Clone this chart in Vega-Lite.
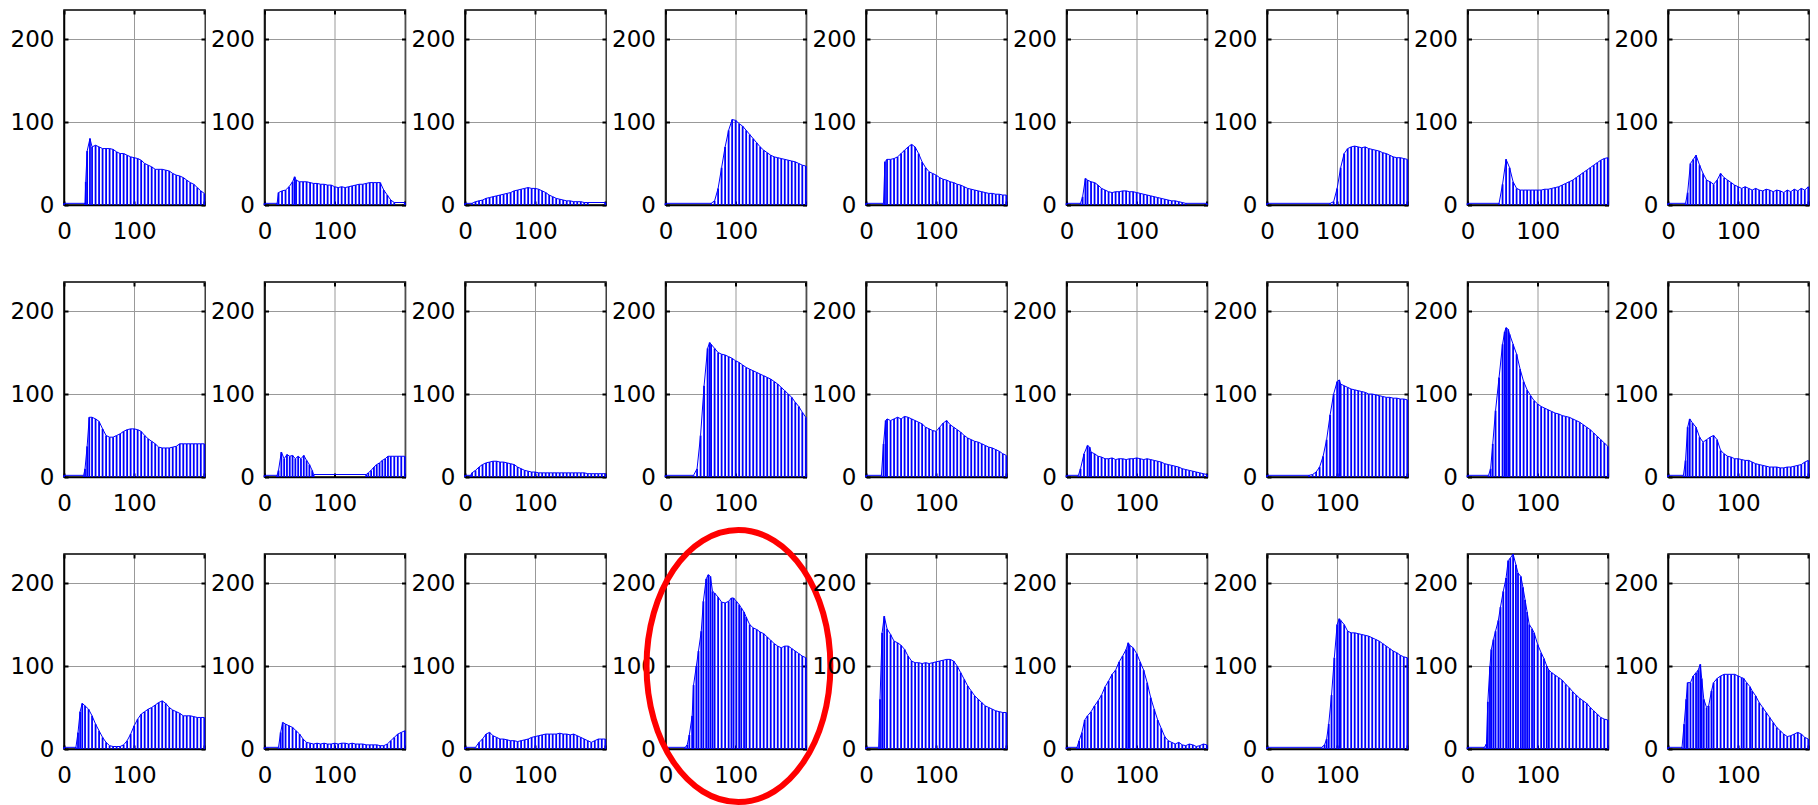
{
"$schema":"https://vega.github.io/schema/vega-lite/v6.json",
"padding":{"left":9,"top":8,"right":5,"bottom":5},
"config":{"view":{"stroke":"black","strokeWidth":1.5},"font":"DejaVu Sans",
"header":{"labels":false,"title":null,"labelFontSize":0,"labelPadding":0,"titlePadding":0},
"headerFacet":{"labels":false,"title":null,"labelFontSize":0,"labelPadding":0,"titlePadding":0},
"axis":{"labelFont":"DejaVu Sans","labelFontSize":23,"labelColor":"black","tickColor":"black","tickWidth":2,"tickSize":-4,"domainColor":"black","domainWidth":1.5,"gridColor":"#999999","gridWidth":1,"gridOpacity":1,"title":null}},
"data":{"values":[
{"p":1,"x":0,"y":2},{"p":1,"x":30,"y":2},{"p":1,"x":31,"y":28},{"p":1,"x":33,"y":65},{"p":1,"x":37,"y":80},{"p":1,"x":40,"y":70},{"p":1,"x":45,"y":72},{"p":1,"x":50,"y":70},{"p":1,"x":55,"y":68},{"p":1,"x":60,"y":68},{"p":1,"x":65,"y":68},{"p":1,"x":70,"y":67},{"p":1,"x":75,"y":64},{"p":1,"x":80,"y":62},{"p":1,"x":85,"y":62},{"p":1,"x":90,"y":60},{"p":1,"x":95,"y":58},{"p":1,"x":100,"y":57},{"p":1,"x":105,"y":56},{"p":1,"x":110,"y":54},{"p":1,"x":115,"y":50},{"p":1,"x":120,"y":48},{"p":1,"x":125,"y":46},{"p":1,"x":130,"y":43},{"p":1,"x":135,"y":43},{"p":1,"x":140,"y":43},{"p":1,"x":145,"y":42},{"p":1,"x":150,"y":41},{"p":1,"x":155,"y":38},{"p":1,"x":160,"y":36},{"p":1,"x":165,"y":35},{"p":1,"x":170,"y":33},{"p":1,"x":175,"y":30},{"p":1,"x":180,"y":27},{"p":1,"x":185,"y":25},{"p":1,"x":190,"y":21},{"p":1,"x":195,"y":17},{"p":1,"x":200,"y":14},
{"p":2,"x":0,"y":2},{"p":2,"x":18,"y":2},{"p":2,"x":20,"y":15},{"p":2,"x":25,"y":17},{"p":2,"x":30,"y":18},{"p":2,"x":35,"y":22},{"p":2,"x":40,"y":28},{"p":2,"x":43,"y":34},{"p":2,"x":45,"y":30},{"p":2,"x":50,"y":28},{"p":2,"x":55,"y":28},{"p":2,"x":60,"y":28},{"p":2,"x":65,"y":27},{"p":2,"x":70,"y":26},{"p":2,"x":75,"y":26},{"p":2,"x":80,"y":25},{"p":2,"x":85,"y":25},{"p":2,"x":90,"y":24},{"p":2,"x":95,"y":24},{"p":2,"x":100,"y":22},{"p":2,"x":105,"y":21},{"p":2,"x":110,"y":22},{"p":2,"x":115,"y":21},{"p":2,"x":120,"y":22},{"p":2,"x":125,"y":23},{"p":2,"x":130,"y":24},{"p":2,"x":135,"y":25},{"p":2,"x":140,"y":25},{"p":2,"x":145,"y":26},{"p":2,"x":150,"y":27},{"p":2,"x":155,"y":27},{"p":2,"x":160,"y":27},{"p":2,"x":165,"y":27},{"p":2,"x":170,"y":18},{"p":2,"x":175,"y":12},{"p":2,"x":180,"y":6},{"p":2,"x":185,"y":3},{"p":2,"x":200,"y":3},
{"p":3,"x":0,"y":2},{"p":3,"x":10,"y":2},{"p":3,"x":15,"y":4},{"p":3,"x":20,"y":5},{"p":3,"x":25,"y":6},{"p":3,"x":30,"y":8},{"p":3,"x":35,"y":9},{"p":3,"x":40,"y":10},{"p":3,"x":45,"y":11},{"p":3,"x":50,"y":12},{"p":3,"x":55,"y":13},{"p":3,"x":60,"y":14},{"p":3,"x":65,"y":15},{"p":3,"x":70,"y":17},{"p":3,"x":75,"y":18},{"p":3,"x":80,"y":19},{"p":3,"x":85,"y":20},{"p":3,"x":90,"y":21},{"p":3,"x":95,"y":20},{"p":3,"x":100,"y":20},{"p":3,"x":105,"y":19},{"p":3,"x":110,"y":17},{"p":3,"x":115,"y":15},{"p":3,"x":120,"y":12},{"p":3,"x":125,"y":10},{"p":3,"x":130,"y":8},{"p":3,"x":135,"y":7},{"p":3,"x":140,"y":6},{"p":3,"x":145,"y":5},{"p":3,"x":150,"y":5},{"p":3,"x":155,"y":4},{"p":3,"x":160,"y":4},{"p":3,"x":165,"y":4},{"p":3,"x":170,"y":3},{"p":3,"x":175,"y":3},{"p":3,"x":200,"y":3},
{"p":4,"x":0,"y":2},{"p":4,"x":65,"y":2},{"p":4,"x":70,"y":5},{"p":4,"x":75,"y":20},{"p":4,"x":80,"y":45},{"p":4,"x":85,"y":70},{"p":4,"x":90,"y":90},{"p":4,"x":95,"y":103},{"p":4,"x":100,"y":102},{"p":4,"x":105,"y":98},{"p":4,"x":110,"y":95},{"p":4,"x":115,"y":90},{"p":4,"x":120,"y":85},{"p":4,"x":125,"y":80},{"p":4,"x":130,"y":75},{"p":4,"x":135,"y":70},{"p":4,"x":140,"y":66},{"p":4,"x":145,"y":63},{"p":4,"x":150,"y":60},{"p":4,"x":155,"y":58},{"p":4,"x":160,"y":57},{"p":4,"x":165,"y":56},{"p":4,"x":170,"y":55},{"p":4,"x":175,"y":54},{"p":4,"x":180,"y":53},{"p":4,"x":185,"y":52},{"p":4,"x":190,"y":50},{"p":4,"x":195,"y":48},{"p":4,"x":200,"y":47},
{"p":5,"x":0,"y":2},{"p":5,"x":25,"y":2},{"p":5,"x":27,"y":52},{"p":5,"x":30,"y":55},{"p":5,"x":35,"y":55},{"p":5,"x":40,"y":56},{"p":5,"x":45,"y":58},{"p":5,"x":50,"y":62},{"p":5,"x":55,"y":66},{"p":5,"x":60,"y":70},{"p":5,"x":65,"y":73},{"p":5,"x":70,"y":70},{"p":5,"x":75,"y":62},{"p":5,"x":80,"y":52},{"p":5,"x":85,"y":45},{"p":5,"x":90,"y":40},{"p":5,"x":95,"y":38},{"p":5,"x":100,"y":36},{"p":5,"x":105,"y":33},{"p":5,"x":110,"y":31},{"p":5,"x":115,"y":30},{"p":5,"x":120,"y":28},{"p":5,"x":125,"y":27},{"p":5,"x":130,"y":25},{"p":5,"x":135,"y":24},{"p":5,"x":140,"y":22},{"p":5,"x":145,"y":20},{"p":5,"x":150,"y":19},{"p":5,"x":155,"y":18},{"p":5,"x":160,"y":17},{"p":5,"x":165,"y":16},{"p":5,"x":170,"y":15},{"p":5,"x":175,"y":14},{"p":5,"x":180,"y":14},{"p":5,"x":185,"y":13},{"p":5,"x":190,"y":13},{"p":5,"x":195,"y":12},{"p":5,"x":200,"y":12},
{"p":6,"x":0,"y":2},{"p":6,"x":20,"y":2},{"p":6,"x":23,"y":10},{"p":6,"x":27,"y":32},{"p":6,"x":30,"y":30},{"p":6,"x":35,"y":28},{"p":6,"x":40,"y":27},{"p":6,"x":45,"y":24},{"p":6,"x":50,"y":20},{"p":6,"x":55,"y":18},{"p":6,"x":60,"y":16},{"p":6,"x":65,"y":15},{"p":6,"x":70,"y":16},{"p":6,"x":75,"y":16},{"p":6,"x":80,"y":17},{"p":6,"x":85,"y":17},{"p":6,"x":90,"y":16},{"p":6,"x":95,"y":16},{"p":6,"x":100,"y":15},{"p":6,"x":105,"y":14},{"p":6,"x":110,"y":13},{"p":6,"x":115,"y":12},{"p":6,"x":120,"y":11},{"p":6,"x":125,"y":10},{"p":6,"x":130,"y":9},{"p":6,"x":135,"y":8},{"p":6,"x":140,"y":7},{"p":6,"x":145,"y":6},{"p":6,"x":150,"y":5},{"p":6,"x":155,"y":5},{"p":6,"x":160,"y":4},{"p":6,"x":165,"y":3},{"p":6,"x":170,"y":2},{"p":6,"x":200,"y":2},
{"p":7,"x":0,"y":2},{"p":7,"x":90,"y":2},{"p":7,"x":95,"y":4},{"p":7,"x":100,"y":20},{"p":7,"x":105,"y":45},{"p":7,"x":110,"y":62},{"p":7,"x":115,"y":68},{"p":7,"x":120,"y":70},{"p":7,"x":125,"y":71},{"p":7,"x":130,"y":70},{"p":7,"x":135,"y":69},{"p":7,"x":140,"y":70},{"p":7,"x":145,"y":68},{"p":7,"x":150,"y":67},{"p":7,"x":155,"y":66},{"p":7,"x":160,"y":65},{"p":7,"x":165,"y":63},{"p":7,"x":170,"y":62},{"p":7,"x":175,"y":60},{"p":7,"x":180,"y":58},{"p":7,"x":185,"y":57},{"p":7,"x":190,"y":57},{"p":7,"x":195,"y":56},{"p":7,"x":200,"y":55},
{"p":8,"x":0,"y":2},{"p":8,"x":45,"y":2},{"p":8,"x":50,"y":25},{"p":8,"x":55,"y":55},{"p":8,"x":60,"y":45},{"p":8,"x":65,"y":28},{"p":8,"x":70,"y":20},{"p":8,"x":75,"y":18},{"p":8,"x":80,"y":18},{"p":8,"x":85,"y":18},{"p":8,"x":90,"y":18},{"p":8,"x":95,"y":18},{"p":8,"x":100,"y":18},{"p":8,"x":105,"y":18},{"p":8,"x":110,"y":19},{"p":8,"x":115,"y":19},{"p":8,"x":120,"y":20},{"p":8,"x":125,"y":21},{"p":8,"x":130,"y":22},{"p":8,"x":135,"y":24},{"p":8,"x":140,"y":26},{"p":8,"x":145,"y":28},{"p":8,"x":150,"y":30},{"p":8,"x":155,"y":33},{"p":8,"x":160,"y":36},{"p":8,"x":165,"y":39},{"p":8,"x":170,"y":42},{"p":8,"x":175,"y":45},{"p":8,"x":180,"y":48},{"p":8,"x":185,"y":51},{"p":8,"x":190,"y":54},{"p":8,"x":195,"y":56},{"p":8,"x":200,"y":57},
{"p":9,"x":0,"y":2},{"p":9,"x":25,"y":2},{"p":9,"x":28,"y":15},{"p":9,"x":32,"y":50},{"p":9,"x":36,"y":55},{"p":9,"x":40,"y":60},{"p":9,"x":45,"y":48},{"p":9,"x":50,"y":38},{"p":9,"x":55,"y":30},{"p":9,"x":60,"y":28},{"p":9,"x":65,"y":25},{"p":9,"x":70,"y":30},{"p":9,"x":75,"y":38},{"p":9,"x":80,"y":33},{"p":9,"x":85,"y":30},{"p":9,"x":90,"y":27},{"p":9,"x":95,"y":24},{"p":9,"x":100,"y":22},{"p":9,"x":105,"y":20},{"p":9,"x":110,"y":22},{"p":9,"x":115,"y":20},{"p":9,"x":120,"y":18},{"p":9,"x":125,"y":20},{"p":9,"x":130,"y":18},{"p":9,"x":135,"y":17},{"p":9,"x":140,"y":19},{"p":9,"x":145,"y":18},{"p":9,"x":150,"y":16},{"p":9,"x":155,"y":18},{"p":9,"x":160,"y":17},{"p":9,"x":165,"y":15},{"p":9,"x":170,"y":18},{"p":9,"x":175,"y":16},{"p":9,"x":180,"y":19},{"p":9,"x":185,"y":17},{"p":9,"x":190,"y":20},{"p":9,"x":195,"y":18},{"p":9,"x":200,"y":22},
{"p":10,"x":0,"y":2},{"p":10,"x":28,"y":2},{"p":10,"x":30,"y":10},{"p":10,"x":33,"y":37},{"p":10,"x":36,"y":72},{"p":10,"x":40,"y":72},{"p":10,"x":45,"y":70},{"p":10,"x":50,"y":67},{"p":10,"x":55,"y":58},{"p":10,"x":60,"y":50},{"p":10,"x":65,"y":48},{"p":10,"x":70,"y":48},{"p":10,"x":75,"y":50},{"p":10,"x":80,"y":52},{"p":10,"x":85,"y":55},{"p":10,"x":90,"y":57},{"p":10,"x":95,"y":58},{"p":10,"x":100,"y":58},{"p":10,"x":105,"y":57},{"p":10,"x":110,"y":55},{"p":10,"x":115,"y":50},{"p":10,"x":120,"y":46},{"p":10,"x":125,"y":43},{"p":10,"x":130,"y":40},{"p":10,"x":135,"y":36},{"p":10,"x":140,"y":35},{"p":10,"x":145,"y":35},{"p":10,"x":150,"y":35},{"p":10,"x":155,"y":36},{"p":10,"x":160,"y":37},{"p":10,"x":165,"y":40},{"p":10,"x":170,"y":40},{"p":10,"x":175,"y":40},{"p":10,"x":180,"y":40},{"p":10,"x":185,"y":40},{"p":10,"x":190,"y":40},{"p":10,"x":195,"y":40},{"p":10,"x":200,"y":40},
{"p":11,"x":0,"y":2},{"p":11,"x":18,"y":2},{"p":11,"x":20,"y":8},{"p":11,"x":24,"y":30},{"p":11,"x":28,"y":22},{"p":11,"x":32,"y":27},{"p":11,"x":36,"y":25},{"p":11,"x":40,"y":26},{"p":11,"x":44,"y":22},{"p":11,"x":48,"y":25},{"p":11,"x":52,"y":22},{"p":11,"x":56,"y":26},{"p":11,"x":60,"y":20},{"p":11,"x":64,"y":15},{"p":11,"x":68,"y":8},{"p":11,"x":70,"y":3},{"p":11,"x":145,"y":3},{"p":11,"x":148,"y":5},{"p":11,"x":152,"y":8},{"p":11,"x":156,"y":12},{"p":11,"x":160,"y":15},{"p":11,"x":164,"y":17},{"p":11,"x":168,"y":20},{"p":11,"x":172,"y":22},{"p":11,"x":176,"y":25},{"p":11,"x":180,"y":25},{"p":11,"x":185,"y":25},{"p":11,"x":190,"y":25},{"p":11,"x":195,"y":25},{"p":11,"x":200,"y":25},
{"p":12,"x":0,"y":2},{"p":12,"x":8,"y":2},{"p":12,"x":10,"y":5},{"p":12,"x":15,"y":8},{"p":12,"x":20,"y":12},{"p":12,"x":25,"y":15},{"p":12,"x":30,"y":17},{"p":12,"x":35,"y":18},{"p":12,"x":40,"y":19},{"p":12,"x":45,"y":19},{"p":12,"x":50,"y":18},{"p":12,"x":55,"y":18},{"p":12,"x":60,"y":17},{"p":12,"x":65,"y":16},{"p":12,"x":70,"y":15},{"p":12,"x":75,"y":12},{"p":12,"x":80,"y":10},{"p":12,"x":85,"y":8},{"p":12,"x":90,"y":7},{"p":12,"x":95,"y":6},{"p":12,"x":100,"y":6},{"p":12,"x":105,"y":5},{"p":12,"x":110,"y":5},{"p":12,"x":115,"y":5},{"p":12,"x":120,"y":5},{"p":12,"x":125,"y":5},{"p":12,"x":130,"y":5},{"p":12,"x":135,"y":5},{"p":12,"x":140,"y":5},{"p":12,"x":145,"y":5},{"p":12,"x":150,"y":5},{"p":12,"x":155,"y":5},{"p":12,"x":160,"y":5},{"p":12,"x":165,"y":5},{"p":12,"x":170,"y":5},{"p":12,"x":175,"y":4},{"p":12,"x":180,"y":4},{"p":12,"x":185,"y":4},{"p":12,"x":190,"y":4},{"p":12,"x":195,"y":4},{"p":12,"x":200,"y":4},
{"p":13,"x":0,"y":2},{"p":13,"x":40,"y":2},{"p":13,"x":45,"y":10},{"p":13,"x":50,"y":50},{"p":13,"x":55,"y":110},{"p":13,"x":60,"y":155},{"p":13,"x":63,"y":162},{"p":13,"x":65,"y":160},{"p":13,"x":70,"y":155},{"p":13,"x":75,"y":150},{"p":13,"x":80,"y":148},{"p":13,"x":85,"y":147},{"p":13,"x":90,"y":145},{"p":13,"x":95,"y":143},{"p":13,"x":100,"y":140},{"p":13,"x":105,"y":138},{"p":13,"x":110,"y":135},{"p":13,"x":115,"y":132},{"p":13,"x":120,"y":130},{"p":13,"x":125,"y":128},{"p":13,"x":130,"y":126},{"p":13,"x":135,"y":124},{"p":13,"x":140,"y":122},{"p":13,"x":145,"y":120},{"p":13,"x":150,"y":118},{"p":13,"x":155,"y":115},{"p":13,"x":160,"y":112},{"p":13,"x":165,"y":108},{"p":13,"x":170,"y":104},{"p":13,"x":175,"y":100},{"p":13,"x":180,"y":96},{"p":13,"x":185,"y":90},{"p":13,"x":190,"y":85},{"p":13,"x":195,"y":78},{"p":13,"x":200,"y":72},
{"p":14,"x":0,"y":2},{"p":14,"x":22,"y":2},{"p":14,"x":25,"y":40},{"p":14,"x":28,"y":68},{"p":14,"x":30,"y":70},{"p":14,"x":35,"y":68},{"p":14,"x":40,"y":70},{"p":14,"x":45,"y":72},{"p":14,"x":50,"y":70},{"p":14,"x":55,"y":73},{"p":14,"x":60,"y":72},{"p":14,"x":65,"y":70},{"p":14,"x":70,"y":68},{"p":14,"x":75,"y":66},{"p":14,"x":80,"y":64},{"p":14,"x":85,"y":60},{"p":14,"x":90,"y":58},{"p":14,"x":95,"y":56},{"p":14,"x":100,"y":55},{"p":14,"x":105,"y":60},{"p":14,"x":110,"y":65},{"p":14,"x":115,"y":68},{"p":14,"x":120,"y":63},{"p":14,"x":125,"y":60},{"p":14,"x":130,"y":57},{"p":14,"x":135,"y":54},{"p":14,"x":140,"y":50},{"p":14,"x":145,"y":47},{"p":14,"x":150,"y":45},{"p":14,"x":155,"y":43},{"p":14,"x":160,"y":42},{"p":14,"x":165,"y":40},{"p":14,"x":170,"y":38},{"p":14,"x":175,"y":36},{"p":14,"x":180,"y":35},{"p":14,"x":185,"y":33},{"p":14,"x":190,"y":31},{"p":14,"x":195,"y":28},{"p":14,"x":200,"y":26},
{"p":15,"x":0,"y":2},{"p":15,"x":17,"y":2},{"p":15,"x":20,"y":10},{"p":15,"x":25,"y":28},{"p":15,"x":30,"y":38},{"p":15,"x":33,"y":36},{"p":15,"x":35,"y":30},{"p":15,"x":40,"y":28},{"p":15,"x":45,"y":25},{"p":15,"x":50,"y":24},{"p":15,"x":55,"y":22},{"p":15,"x":60,"y":22},{"p":15,"x":65,"y":23},{"p":15,"x":70,"y":21},{"p":15,"x":75,"y":22},{"p":15,"x":80,"y":22},{"p":15,"x":85,"y":21},{"p":15,"x":90,"y":22},{"p":15,"x":95,"y":22},{"p":15,"x":100,"y":23},{"p":15,"x":105,"y":22},{"p":15,"x":110,"y":21},{"p":15,"x":115,"y":22},{"p":15,"x":120,"y":21},{"p":15,"x":125,"y":20},{"p":15,"x":130,"y":19},{"p":15,"x":135,"y":18},{"p":15,"x":140,"y":16},{"p":15,"x":145,"y":15},{"p":15,"x":150,"y":14},{"p":15,"x":155,"y":13},{"p":15,"x":160,"y":12},{"p":15,"x":165,"y":10},{"p":15,"x":170,"y":9},{"p":15,"x":175,"y":8},{"p":15,"x":180,"y":7},{"p":15,"x":185,"y":6},{"p":15,"x":190,"y":5},{"p":15,"x":195,"y":4},{"p":15,"x":200,"y":3},
{"p":16,"x":0,"y":2},{"p":16,"x":60,"y":2},{"p":16,"x":65,"y":3},{"p":16,"x":70,"y":6},{"p":16,"x":75,"y":12},{"p":16,"x":80,"y":25},{"p":16,"x":85,"y":45},{"p":16,"x":90,"y":75},{"p":16,"x":95,"y":100},{"p":16,"x":100,"y":115},{"p":16,"x":103,"y":117},{"p":16,"x":105,"y":112},{"p":16,"x":110,"y":110},{"p":16,"x":115,"y":108},{"p":16,"x":120,"y":106},{"p":16,"x":125,"y":105},{"p":16,"x":130,"y":104},{"p":16,"x":135,"y":103},{"p":16,"x":140,"y":102},{"p":16,"x":145,"y":100},{"p":16,"x":150,"y":100},{"p":16,"x":155,"y":99},{"p":16,"x":160,"y":98},{"p":16,"x":165,"y":97},{"p":16,"x":170,"y":96},{"p":16,"x":175,"y":96},{"p":16,"x":180,"y":95},{"p":16,"x":185,"y":95},{"p":16,"x":190,"y":94},{"p":16,"x":195,"y":94},{"p":16,"x":200,"y":93},
{"p":17,"x":0,"y":2},{"p":17,"x":30,"y":2},{"p":17,"x":33,"y":10},{"p":17,"x":36,"y":40},{"p":17,"x":40,"y":80},{"p":17,"x":45,"y":120},{"p":17,"x":50,"y":160},{"p":17,"x":53,"y":175},{"p":17,"x":55,"y":180},{"p":17,"x":58,"y":178},{"p":17,"x":60,"y":172},{"p":17,"x":65,"y":160},{"p":17,"x":70,"y":148},{"p":17,"x":75,"y":130},{"p":17,"x":80,"y":115},{"p":17,"x":85,"y":105},{"p":17,"x":90,"y":98},{"p":17,"x":95,"y":92},{"p":17,"x":100,"y":88},{"p":17,"x":105,"y":85},{"p":17,"x":110,"y":83},{"p":17,"x":115,"y":81},{"p":17,"x":120,"y":79},{"p":17,"x":125,"y":77},{"p":17,"x":130,"y":76},{"p":17,"x":135,"y":74},{"p":17,"x":140,"y":73},{"p":17,"x":145,"y":72},{"p":17,"x":150,"y":70},{"p":17,"x":155,"y":68},{"p":17,"x":160,"y":66},{"p":17,"x":165,"y":63},{"p":17,"x":170,"y":60},{"p":17,"x":175,"y":57},{"p":17,"x":180,"y":53},{"p":17,"x":185,"y":49},{"p":17,"x":190,"y":45},{"p":17,"x":195,"y":41},{"p":17,"x":200,"y":37},
{"p":18,"x":0,"y":2},{"p":18,"x":22,"y":2},{"p":18,"x":25,"y":20},{"p":18,"x":28,"y":60},{"p":18,"x":31,"y":70},{"p":18,"x":35,"y":65},{"p":18,"x":40,"y":60},{"p":18,"x":45,"y":48},{"p":18,"x":50,"y":42},{"p":18,"x":55,"y":45},{"p":18,"x":60,"y":48},{"p":18,"x":65,"y":50},{"p":18,"x":70,"y":45},{"p":18,"x":75,"y":32},{"p":18,"x":80,"y":28},{"p":18,"x":85,"y":25},{"p":18,"x":90,"y":24},{"p":18,"x":95,"y":22},{"p":18,"x":100,"y":22},{"p":18,"x":105,"y":21},{"p":18,"x":110,"y":20},{"p":18,"x":115,"y":20},{"p":18,"x":120,"y":18},{"p":18,"x":125,"y":16},{"p":18,"x":130,"y":15},{"p":18,"x":135,"y":14},{"p":18,"x":140,"y":13},{"p":18,"x":145,"y":12},{"p":18,"x":150,"y":12},{"p":18,"x":155,"y":12},{"p":18,"x":160,"y":11},{"p":18,"x":165,"y":11},{"p":18,"x":170,"y":12},{"p":18,"x":175,"y":12},{"p":18,"x":180,"y":13},{"p":18,"x":185,"y":14},{"p":18,"x":190,"y":15},{"p":18,"x":195,"y":18},{"p":18,"x":200,"y":20},
{"p":19,"x":0,"y":2},{"p":19,"x":17,"y":2},{"p":19,"x":20,"y":20},{"p":19,"x":23,"y":45},{"p":19,"x":26,"y":55},{"p":19,"x":30,"y":52},{"p":19,"x":35,"y":48},{"p":19,"x":40,"y":40},{"p":19,"x":45,"y":30},{"p":19,"x":50,"y":22},{"p":19,"x":55,"y":14},{"p":19,"x":60,"y":8},{"p":19,"x":65,"y":4},{"p":19,"x":70,"y":3},{"p":19,"x":75,"y":3},{"p":19,"x":80,"y":3},{"p":19,"x":85,"y":5},{"p":19,"x":90,"y":10},{"p":19,"x":95,"y":18},{"p":19,"x":100,"y":28},{"p":19,"x":105,"y":36},{"p":19,"x":110,"y":42},{"p":19,"x":115,"y":45},{"p":19,"x":120,"y":48},{"p":19,"x":125,"y":50},{"p":19,"x":130,"y":53},{"p":19,"x":135,"y":56},{"p":19,"x":140,"y":58},{"p":19,"x":145,"y":55},{"p":19,"x":150,"y":50},{"p":19,"x":155,"y":47},{"p":19,"x":160,"y":45},{"p":19,"x":165,"y":43},{"p":19,"x":170,"y":40},{"p":19,"x":175,"y":40},{"p":19,"x":180,"y":40},{"p":19,"x":185,"y":39},{"p":19,"x":190,"y":38},{"p":19,"x":195,"y":38},{"p":19,"x":200,"y":38},
{"p":20,"x":0,"y":2},{"p":20,"x":20,"y":2},{"p":20,"x":23,"y":20},{"p":20,"x":26,"y":32},{"p":20,"x":30,"y":30},{"p":20,"x":35,"y":28},{"p":20,"x":40,"y":26},{"p":20,"x":45,"y":22},{"p":20,"x":50,"y":18},{"p":20,"x":55,"y":12},{"p":20,"x":60,"y":8},{"p":20,"x":65,"y":7},{"p":20,"x":70,"y":6},{"p":20,"x":75,"y":7},{"p":20,"x":80,"y":6},{"p":20,"x":85,"y":7},{"p":20,"x":90,"y":6},{"p":20,"x":95,"y":6},{"p":20,"x":100,"y":7},{"p":20,"x":105,"y":6},{"p":20,"x":110,"y":7},{"p":20,"x":115,"y":7},{"p":20,"x":120,"y":6},{"p":20,"x":125,"y":7},{"p":20,"x":130,"y":6},{"p":20,"x":135,"y":6},{"p":20,"x":140,"y":6},{"p":20,"x":145,"y":5},{"p":20,"x":150,"y":5},{"p":20,"x":155,"y":5},{"p":20,"x":160,"y":5},{"p":20,"x":165,"y":4},{"p":20,"x":170,"y":4},{"p":20,"x":175,"y":6},{"p":20,"x":180,"y":10},{"p":20,"x":185,"y":14},{"p":20,"x":190,"y":18},{"p":20,"x":195,"y":20},{"p":20,"x":200,"y":22},
{"p":21,"x":0,"y":2},{"p":21,"x":15,"y":2},{"p":21,"x":20,"y":8},{"p":21,"x":25,"y":12},{"p":21,"x":30,"y":18},{"p":21,"x":35,"y":20},{"p":21,"x":40,"y":16},{"p":21,"x":45,"y":14},{"p":21,"x":50,"y":12},{"p":21,"x":55,"y":12},{"p":21,"x":60,"y":11},{"p":21,"x":65,"y":10},{"p":21,"x":70,"y":10},{"p":21,"x":75,"y":9},{"p":21,"x":80,"y":10},{"p":21,"x":85,"y":11},{"p":21,"x":90,"y":12},{"p":21,"x":95,"y":14},{"p":21,"x":100,"y":15},{"p":21,"x":105,"y":16},{"p":21,"x":110,"y":17},{"p":21,"x":115,"y":18},{"p":21,"x":120,"y":18},{"p":21,"x":125,"y":18},{"p":21,"x":130,"y":18},{"p":21,"x":135,"y":19},{"p":21,"x":140,"y":18},{"p":21,"x":145,"y":18},{"p":21,"x":150,"y":17},{"p":21,"x":155,"y":18},{"p":21,"x":160,"y":16},{"p":21,"x":165,"y":14},{"p":21,"x":170,"y":12},{"p":21,"x":175,"y":10},{"p":21,"x":180,"y":8},{"p":21,"x":185,"y":10},{"p":21,"x":190,"y":12},{"p":21,"x":195,"y":12},{"p":21,"x":200,"y":12},
{"p":22,"x":0,"y":2},{"p":22,"x":28,"y":2},{"p":22,"x":31,"y":5},{"p":22,"x":34,"y":17},{"p":22,"x":38,"y":40},{"p":22,"x":40,"y":77},{"p":22,"x":44,"y":100},{"p":22,"x":47,"y":118},{"p":22,"x":51,"y":142},{"p":22,"x":54,"y":178},{"p":22,"x":58,"y":205},{"p":22,"x":61,"y":210},{"p":22,"x":64,"y":208},{"p":22,"x":67,"y":190},{"p":22,"x":70,"y":188},{"p":22,"x":75,"y":183},{"p":22,"x":80,"y":177},{"p":22,"x":85,"y":176},{"p":22,"x":90,"y":178},{"p":22,"x":94,"y":182},{"p":22,"x":97,"y":182},{"p":22,"x":101,"y":178},{"p":22,"x":105,"y":174},{"p":22,"x":108,"y":170},{"p":22,"x":112,"y":165},{"p":22,"x":115,"y":159},{"p":22,"x":120,"y":150},{"p":22,"x":125,"y":146},{"p":22,"x":130,"y":144},{"p":22,"x":135,"y":141},{"p":22,"x":140,"y":139},{"p":22,"x":145,"y":135},{"p":22,"x":150,"y":131},{"p":22,"x":155,"y":127},{"p":22,"x":160,"y":124},{"p":22,"x":165,"y":122},{"p":22,"x":170,"y":124},{"p":22,"x":175,"y":124},{"p":22,"x":180,"y":121},{"p":22,"x":185,"y":118},{"p":22,"x":190,"y":115},{"p":22,"x":195,"y":112},{"p":22,"x":200,"y":110},
{"p":23,"x":0,"y":2},{"p":23,"x":18,"y":2},{"p":23,"x":20,"y":60},{"p":23,"x":23,"y":140},{"p":23,"x":26,"y":160},{"p":23,"x":30,"y":145},{"p":23,"x":35,"y":138},{"p":23,"x":40,"y":130},{"p":23,"x":45,"y":128},{"p":23,"x":50,"y":125},{"p":23,"x":55,"y":120},{"p":23,"x":60,"y":112},{"p":23,"x":65,"y":106},{"p":23,"x":70,"y":104},{"p":23,"x":75,"y":104},{"p":23,"x":80,"y":103},{"p":23,"x":85,"y":104},{"p":23,"x":90,"y":103},{"p":23,"x":95,"y":104},{"p":23,"x":100,"y":105},{"p":23,"x":105,"y":106},{"p":23,"x":110,"y":107},{"p":23,"x":115,"y":108},{"p":23,"x":120,"y":108},{"p":23,"x":125,"y":106},{"p":23,"x":130,"y":100},{"p":23,"x":135,"y":92},{"p":23,"x":140,"y":84},{"p":23,"x":145,"y":76},{"p":23,"x":150,"y":70},{"p":23,"x":155,"y":64},{"p":23,"x":160,"y":60},{"p":23,"x":165,"y":56},{"p":23,"x":170,"y":52},{"p":23,"x":175,"y":50},{"p":23,"x":180,"y":48},{"p":23,"x":185,"y":46},{"p":23,"x":190,"y":45},{"p":23,"x":195,"y":44},{"p":23,"x":200,"y":44},
{"p":24,"x":0,"y":2},{"p":24,"x":15,"y":2},{"p":24,"x":18,"y":10},{"p":24,"x":22,"y":20},{"p":24,"x":26,"y":35},{"p":24,"x":30,"y":40},{"p":24,"x":35,"y":45},{"p":24,"x":40,"y":52},{"p":24,"x":45,"y":58},{"p":24,"x":50,"y":65},{"p":24,"x":55,"y":75},{"p":24,"x":60,"y":82},{"p":24,"x":65,"y":90},{"p":24,"x":70,"y":95},{"p":24,"x":75,"y":105},{"p":24,"x":80,"y":112},{"p":24,"x":85,"y":120},{"p":24,"x":88,"y":128},{"p":24,"x":90,"y":125},{"p":24,"x":95,"y":122},{"p":24,"x":100,"y":115},{"p":24,"x":105,"y":105},{"p":24,"x":110,"y":95},{"p":24,"x":115,"y":80},{"p":24,"x":120,"y":62},{"p":24,"x":125,"y":48},{"p":24,"x":130,"y":35},{"p":24,"x":135,"y":25},{"p":24,"x":140,"y":15},{"p":24,"x":145,"y":10},{"p":24,"x":150,"y":8},{"p":24,"x":155,"y":6},{"p":24,"x":160,"y":8},{"p":24,"x":165,"y":5},{"p":24,"x":170,"y":4},{"p":24,"x":175,"y":6},{"p":24,"x":180,"y":5},{"p":24,"x":185,"y":3},{"p":24,"x":190,"y":4},{"p":24,"x":195,"y":6},{"p":24,"x":200,"y":5},
{"p":25,"x":0,"y":2},{"p":25,"x":78,"y":2},{"p":25,"x":82,"y":5},{"p":25,"x":85,"y":12},{"p":25,"x":88,"y":30},{"p":25,"x":92,"y":65},{"p":25,"x":96,"y":110},{"p":25,"x":100,"y":150},{"p":25,"x":103,"y":157},{"p":25,"x":105,"y":155},{"p":25,"x":110,"y":150},{"p":25,"x":115,"y":142},{"p":25,"x":120,"y":140},{"p":25,"x":125,"y":140},{"p":25,"x":130,"y":139},{"p":25,"x":135,"y":138},{"p":25,"x":140,"y":137},{"p":25,"x":145,"y":136},{"p":25,"x":150,"y":134},{"p":25,"x":155,"y":132},{"p":25,"x":160,"y":130},{"p":25,"x":165,"y":127},{"p":25,"x":170,"y":124},{"p":25,"x":175,"y":121},{"p":25,"x":180,"y":118},{"p":25,"x":185,"y":116},{"p":25,"x":190,"y":113},{"p":25,"x":195,"y":111},{"p":25,"x":200,"y":110},
{"p":26,"x":0,"y":2},{"p":26,"x":24,"y":2},{"p":26,"x":27,"y":6},{"p":26,"x":29,"y":57},{"p":26,"x":32,"y":100},{"p":26,"x":34,"y":120},{"p":26,"x":37,"y":132},{"p":26,"x":40,"y":142},{"p":26,"x":44,"y":155},{"p":26,"x":47,"y":171},{"p":26,"x":51,"y":190},{"p":26,"x":55,"y":206},{"p":26,"x":58,"y":227},{"p":26,"x":61,"y":230},{"p":26,"x":65,"y":235},{"p":26,"x":69,"y":222},{"p":26,"x":72,"y":212},{"p":26,"x":76,"y":208},{"p":26,"x":79,"y":195},{"p":26,"x":82,"y":180},{"p":26,"x":85,"y":165},{"p":26,"x":88,"y":150},{"p":26,"x":92,"y":145},{"p":26,"x":95,"y":140},{"p":26,"x":100,"y":126},{"p":26,"x":105,"y":116},{"p":26,"x":109,"y":109},{"p":26,"x":113,"y":100},{"p":26,"x":116,"y":95},{"p":26,"x":120,"y":92},{"p":26,"x":125,"y":89},{"p":26,"x":130,"y":86},{"p":26,"x":135,"y":83},{"p":26,"x":140,"y":78},{"p":26,"x":145,"y":74},{"p":26,"x":150,"y":69},{"p":26,"x":155,"y":65},{"p":26,"x":160,"y":61},{"p":26,"x":165,"y":58},{"p":26,"x":170,"y":55},{"p":26,"x":175,"y":50},{"p":26,"x":180,"y":46},{"p":26,"x":185,"y":42},{"p":26,"x":190,"y":38},{"p":26,"x":195,"y":36},{"p":26,"x":200,"y":35},
{"p":27,"x":0,"y":2},{"p":27,"x":20,"y":2},{"p":27,"x":23,"y":30},{"p":27,"x":26,"y":60},{"p":27,"x":28,"y":80},{"p":27,"x":32,"y":80},{"p":27,"x":36,"y":88},{"p":27,"x":40,"y":92},{"p":27,"x":43,"y":95},{"p":27,"x":46,"y":102},{"p":27,"x":48,"y":85},{"p":27,"x":51,"y":60},{"p":27,"x":55,"y":50},{"p":27,"x":58,"y":52},{"p":27,"x":62,"y":70},{"p":27,"x":65,"y":80},{"p":27,"x":70,"y":85},{"p":27,"x":75,"y":88},{"p":27,"x":80,"y":90},{"p":27,"x":85,"y":90},{"p":27,"x":90,"y":90},{"p":27,"x":95,"y":90},{"p":27,"x":100,"y":88},{"p":27,"x":105,"y":86},{"p":27,"x":108,"y":85},{"p":27,"x":112,"y":80},{"p":27,"x":117,"y":75},{"p":27,"x":120,"y":70},{"p":27,"x":125,"y":64},{"p":27,"x":130,"y":56},{"p":27,"x":135,"y":50},{"p":27,"x":140,"y":44},{"p":27,"x":145,"y":38},{"p":27,"x":150,"y":32},{"p":27,"x":155,"y":26},{"p":27,"x":160,"y":22},{"p":27,"x":165,"y":18},{"p":27,"x":170,"y":15},{"p":27,"x":175,"y":16},{"p":27,"x":180,"y":18},{"p":27,"x":185,"y":20},{"p":27,"x":190,"y":18},{"p":27,"x":195,"y":14},{"p":27,"x":200,"y":12},
{"p":22,"x":104,"y":100,"e":1}
]},
"facet":{"field":"p","type":"ordinal","title":null,"header":{"title":null,"labels":false,"labelFontSize":0,"labelPadding":0,"labelExpr":"''"}},
"columns":9,
"bounds":"flush",
"spacing":{"row":77,"column":59.5},
"resolve":{"axis":{"x":"independent","y":"independent"}},
"spec":{
"width":141,"height":195,
"layer":[
{"transform":[{"filter":"!datum.e"}],
"mark":{"type":"rule","color":"#0000ff","strokeWidth":1.8},
"encoding":{
"x":{"field":"x","type":"quantitative","scale":{"domain":[0,201],"nice":false,"zero":false},"axis":{"orient":"bottom","values":[0,100,200],"labelExpr":"datum.value==200?'':datum.label","grid":true,"labelPadding":19,"labelFlush":false}},
"y":{"field":"y","type":"quantitative","scale":{"domain":[0,235],"nice":false},"axis":{"orient":"left","values":[0,100,200],"grid":true,"labelPadding":14}},
"y2":{"datum":0}}},
{"transform":[{"filter":"!datum.e"}],
"mark":{"type":"line","color":"#0000ff","strokeWidth":1},
"encoding":{
"x":{"field":"x","type":"quantitative","axis":{"orient":"top","labels":false,"grid":false,"domain":false,"values":[0,100,200]}},
"y":{"field":"y","type":"quantitative","axis":{"orient":"right","labels":false,"grid":false,"domain":false,"values":[0,100,200]}}}},
{"transform":[{"filter":"datum.e"}],
"mark":{"type":"point","shape":"M -0.676 0 A 0.676 1 0 1 0 0.676 0 A 0.676 1 0 1 0 -0.676 0 Z","size":73984,"stroke":"#ff0000","strokeWidth":6,"filled":false,"opacity":1,"clip":false},
"encoding":{
"x":{"field":"x","type":"quantitative","axis":null},
"y":{"field":"y","type":"quantitative","axis":null}}}
],
"resolve":{"axis":{"x":"independent","y":"independent"}}
}
}
